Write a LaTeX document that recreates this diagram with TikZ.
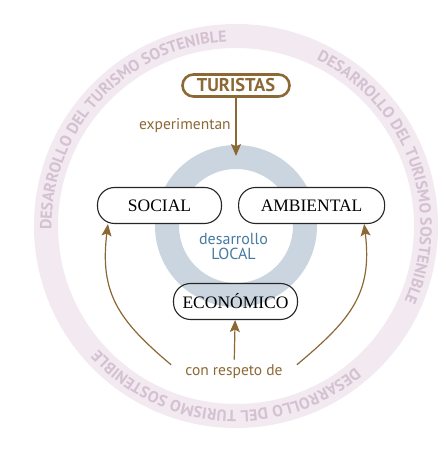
\documentclass[tikz,border=0pt]{standalone}
\usepackage{fontspec}
\setmainfont{Liberation Serif}
\newfontfamily\ptsans{PT Sans}
\usepackage{tikz}
\usetikzlibrary{backgrounds}
\usetikzlibrary{positioning}
\usetikzlibrary{arrows.meta}
\usetikzlibrary{decorations.text}
\definecolor{brownish}{RGB}{140,104,52}
\definecolor{ringpink}{RGB}{243,233,240}
\definecolor{ringtext}{RGB}{212,194,210}
\definecolor{ringblue}{RGB}{203,213,223}
\definecolor{localblue}{RGB}{72,122,160}

\begin{document}
\begin{tikzpicture}[
            x = 1pt, y = 1pt, % one unit per pixel
            > = {Stealth[length=12pt, width=10pt, inset=2.5pt]}, % arrow head style
            semithick % line style
        ]

        \tikzstyle{dim box}=[
            draw = black!85,
            line width = 1.1pt,
            fill = white,
            rounded corners = 17pt,
            minimum height = 36pt,
            inner sep = 0pt,
            font = \fontsize{17.5}{20}\selectfont
        ]
        \tikzstyle{brown label}=[
            text = brownish,
            inner sep = 0pt,
            font = \ptsans\fontsize{15.5}{18}\selectfont
        ]
        \tikzstyle{brown arrow}=[
            ->,
            draw = brownish,
            line width = 1.2pt
        ]
        \tikzstyle{ring text}=[
            decorate,
            decoration = {text along path, text align = center,
                text = {|\ptsans\bfseries\fontsize{16}{19}\selectfont\color{ringtext}|DESARROLLO DEL TURISMO SOSTENIBLE}}
        ]

        \useasboundingbox (0,0) rectangle (446,452);
        \coordinate (ctr) at (236,226);

        % top
        \node[draw = brownish, line width = 2.6pt, rounded corners = 11pt,
              minimum width = 107pt, minimum height = 22pt, inner sep = 0pt,
              text = brownish, font = \ptsans\bfseries\fontsize{18.5}{20}\selectfont]
              (tur) at (236,366.5) {TURISTAS};
        \coordinate (ringin) at (236,296);
        \node[brown label, anchor = east] (exp) at (231,326) {experimentan};

        \draw[brown arrow] (tur) -- (ringin);

        % dimensions
        \node[dim box, minimum width = 124pt] (soc) at (159.5,246.5) {SOCIAL};
        \node[dim box, minimum width = 146pt] (amb) [right = 16pt of soc] {AMBIENTAL};
        \node[dim box, minimum width = 124pt, fill = none] (eco) at (235.5,150.5) {ECONÓMICO};

        \node[align = center, text = localblue, inner sep = 0pt,
              font = \ptsans\fontsize{16}{15}\selectfont] (loc) at (233.5,205.5) {desarrollo\\LOCAL};

        % bottom
        \node[brown label] (resp) at (234,80) {con respeto de};

        \draw[brown arrow, shorten <= 5pt] (resp) -- (eco);
        \draw[brown arrow] ([xshift=-14pt]resp.north west) to[out=140, in=-97, looseness=1.15] ([xshift=11pt]soc.south west);
        \draw[brown arrow] ([xshift=14pt]resp.north east) to[out=40, in=-83, looseness=1.15] ([xshift=-21pt]amb.south east);

        \begin{scope}[on background layer]
            \fill[white] (0,0) rectangle (446,452);
            \draw[ringpink, line width = 24pt] (ctr) circle[radius = 190];
            \draw[ringblue, line width = 24pt] (ctr) circle[radius = 69];
            \foreach \a in {137,20,-94}
                \path[ring text] ([shift={({\a+60}:184.5)}]ctr) arc[start angle = \a+60, end angle = \a-60, radius = 184.5];
        \end{scope}

\end{tikzpicture}
\end{document}
